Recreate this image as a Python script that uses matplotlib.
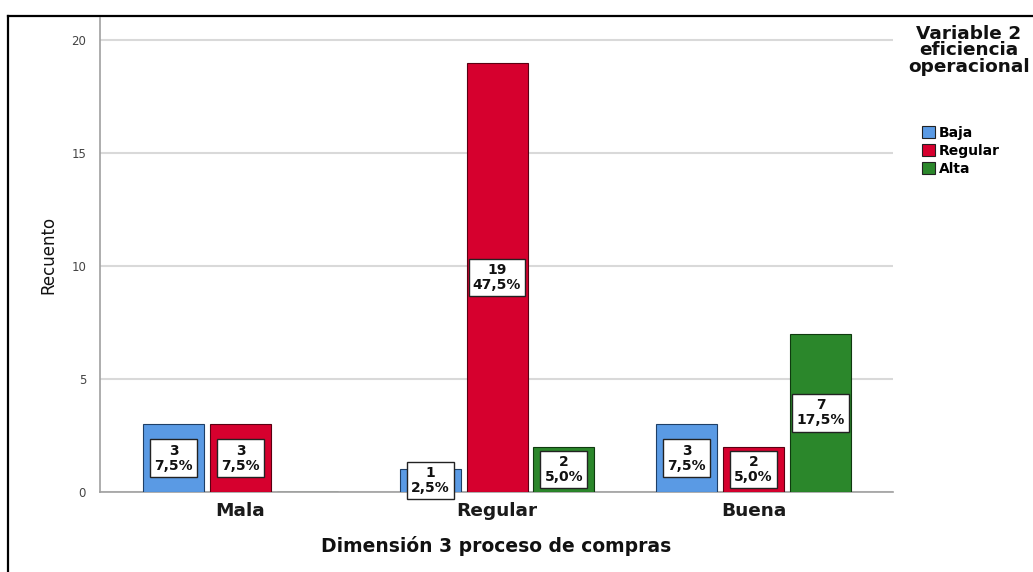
import numpy as np
import matplotlib
matplotlib.use('Agg')
import matplotlib.pyplot as plt
from matplotlib.lines import Line2D

# Counts per category of "Dimensión 3 proceso de compras"
categories = ['Mala', 'Regular', 'Buena']
series_names = ['Baja', 'Regular', 'Alta']
counts_baja = [3, 1, 3]
counts_regular = [3, 19, 2]
counts_alta = [0, 2, 7]
total = 40

colors = ['#5A9AE4', '#D6002E', '#2B872B']
edge_colors = ['#1F3F66', '#5A0012', '#0F3A0F']


def pct_label(n):
    """Count plus percentage of total, with decimal comma."""
    return f"{n}\n{n / total * 100:.1f}%".replace('.', ',')


def draw_chart():
    fig = plt.figure(figsize=(10.33, 5.72), dpi=100)
    ax = fig.add_axes([0.0968, 0.1399, 0.7677, 0.8286])

    x = np.arange(len(categories))
    offset = 0.261
    width = 0.238
    series = [counts_baja, counts_regular, counts_alta]

    handles = []
    for i, values in enumerate(series):
        pos = x + (i - 1) * offset
        bars = ax.bar(pos, values, width=width, color=colors[i],
                      edgecolor=edge_colors[i], linewidth=0.8, zorder=3,
                      label=series_names[i])
        handles.append(bars)
        for xp, v in zip(pos, values):
            if v == 0:
                continue
            ax.text(xp, v / 2, pct_label(v), ha='center', va='center',
                    fontsize=10, fontweight='bold', linespacing=1.1,
                    color='#111111', zorder=4,
                    bbox=dict(boxstyle='square,pad=0.3', facecolor='white',
                              edgecolor='#222222', linewidth=1.0))

    ax.set_xlim(-0.548, 2.544)
    ax.set_ylim(0, 20.97)
    ax.set_yticks([0, 5, 10, 15, 20])
    ax.yaxis.grid(True, color='#D9D9D9', linewidth=1.5, zorder=0)
    ax.set_axisbelow(True)

    ax.set_xticks(x)
    ax.set_xticklabels(categories, fontsize=13.3, fontweight='bold',
                       color='#1A1A1A')
    ax.tick_params(axis='x', length=0, pad=7)
    ax.tick_params(axis='y', length=0, pad=10, labelsize=8.5,
                   labelcolor='#444444')

    for side in ['top', 'right']:
        ax.spines[side].set_visible(False)
    for side in ['left', 'bottom']:
        ax.spines[side].set_color('#A0A0A0')
        ax.spines[side].set_linewidth(1.2)

    ax.set_ylabel('Recuento', fontsize=12, color='#111111', labelpad=10)
    ax.set_xlabel('Dimensión 3 proceso de compras', fontsize=13.5,
                  fontweight='bold', color='#111111', labelpad=12)

    # legend title and entries
    fig.text(0.938, 0.957, 'Variable 2\neficiencia\noperacional',
             ha='center', va='top', fontsize=13.3, fontweight='bold',
             linespacing=0.92, color='#111111')
    leg = ax.legend(handles=handles, loc='upper left',
                    bbox_to_anchor=(0.886, 0.792),
                    bbox_transform=fig.transFigure, frameon=False,
                    prop={'weight': 'bold', 'size': 10},
                    handlelength=0.95, handleheight=0.95, handletextpad=0.25,
                    labelspacing=0.3, borderpad=0)
    for h in leg.legend_handles:
        h.set_edgecolor('#222222')

    # outer frame lines
    fig.add_artist(Line2D([8 / 1033, 1.0], [1 - 16 / 572, 1 - 16 / 572],
                          transform=fig.transFigure, color='black', lw=1.6))
    fig.add_artist(Line2D([8 / 1033, 8 / 1033], [0, 1 - 16 / 572],
                          transform=fig.transFigure, color='black', lw=1.6))

    fig.savefig('out.png', dpi=100, facecolor='white')


draw_chart()
